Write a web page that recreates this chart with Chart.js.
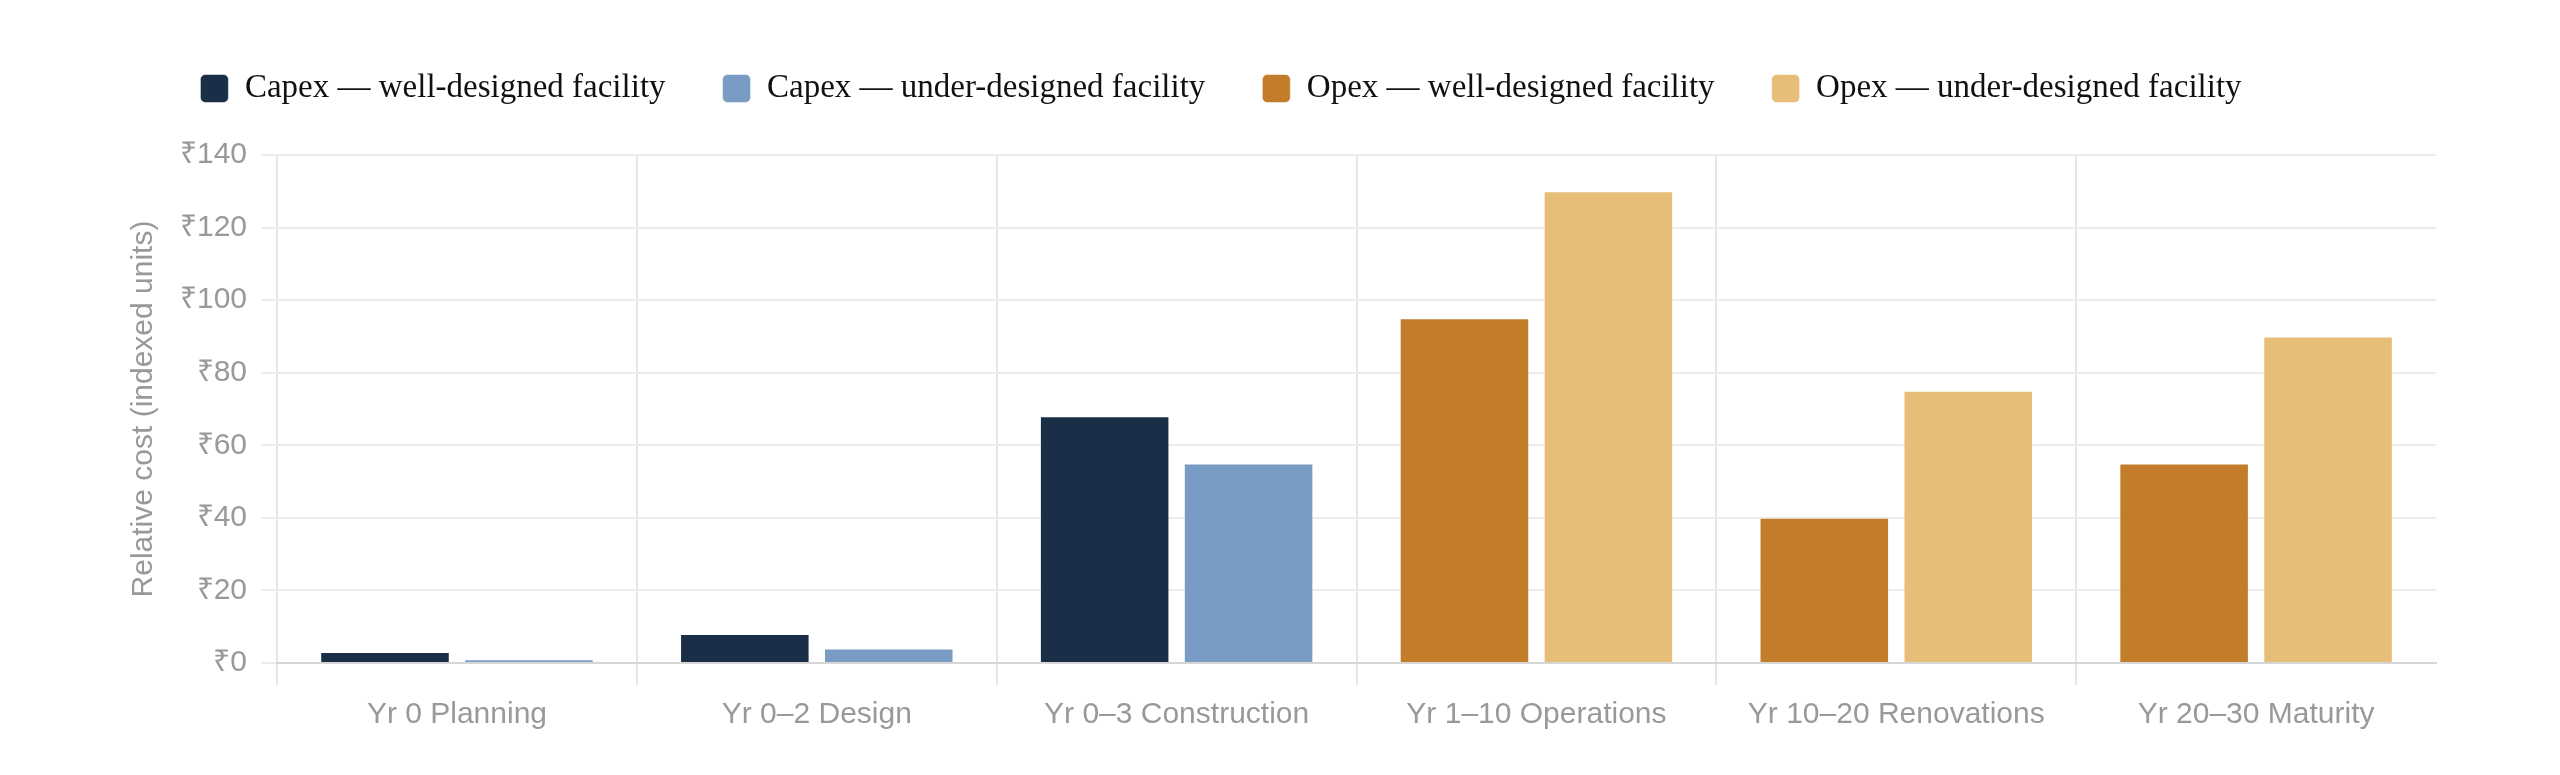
<!DOCTYPE html>
<html>
<head>
<meta charset="utf-8">
<script src="https://cdn.jsdelivr.net/npm/chart.js@4.4.1/dist/chart.umd.min.js"></script>
<style>
  html, body { margin: 0; padding: 0; background: #fff; }
  #wrap { width: 2560px; height: 775px; position: relative; }
</style>
</head>
<body>
<div id="wrap"><canvas id="lifecycleChart"></canvas></div>
<script>
// phases along the facility life
const phases = [
  "Yr 0 Planning",
  "Yr 0\u20132 Design",
  "Yr 0\u20133 Construction",
  "Yr 1\u201310 Operations",
  "Yr 10\u201320 Renovations",
  "Yr 20\u201330 Maturity"
];

// relative cost, indexed units (null = not shown for that phase)
const capexWell = [3, 8, 68, null, null, null];
const capexUnder = [1, 4, 55, null, null, null];
const opexWell = [null, null, null, 95, 40, 55];
const opexUnder = [null, null, null, 130, 75, 90];

const yTicks = [0, 20, 40, 60, 80, 100, 120, 140];

const sansFont = "'Helvetica Neue', Helvetica, 'Liberation Sans', Arial, sans-serif";
const grey = "#999999";

// extra room under the legend, and nudge it a bit left like the original
const legendTweak = {
  id: "legendTweak",
  beforeInit(chart) {
    const fit = chart.legend.fit;
    chart.legend.fit = function () {
      fit.bind(chart.legend)();
      this.height += 40;
    };
  },
  afterLayout(chart) {
    chart.legend.left -= 60;
    chart.legend.right -= 60;
  },
};

const ctx = document.getElementById("lifecycleChart");

new Chart(ctx, {
  type: "bar",
  data: {
    labels: phases,
    datasets: [
      {
        label: "Capex \u2014 well-designed facility",
        data: capexWell,
        backgroundColor: "#1b2e48",
        borderColor: "rgba(255,255,255,0.5)",
        borderWidth: 1,
      },
      {
        label: "Capex \u2014 under-designed facility",
        data: capexUnder,
        backgroundColor: "#799cc4",
        borderColor: "rgba(255,255,255,0.5)",
        borderWidth: 1,
      },
      {
        label: "Opex \u2014 well-designed facility",
        data: opexWell,
        backgroundColor: "#c27c2a",
        borderColor: "rgba(255,255,255,0.5)",
        borderWidth: 1,
      },
      {
        label: "Opex \u2014 under-designed facility",
        data: opexUnder,
        backgroundColor: "#e6be78",
        borderColor: "rgba(255,255,255,0.5)",
        borderWidth: 1,
      },
    ],
  },
  options: {
    responsive: true,
    maintainAspectRatio: false,
    devicePixelRatio: 1,
    animation: false,
    skipNull: true,
    layout: {
      padding: { top: 15, left: 126, right: 124, bottom: 30 },
    },
    plugins: {
      legend: {
        position: "top",
        labels: {
          font: { family: "'Liberation Serif', 'Times New Roman', serif", size: 33 },
          color: "#111111",
          boxWidth: 28,
          boxHeight: 28,
          useBorderRadius: true,
          borderRadius: 5,
          padding: 57,
        },
      },
      tooltip: { enabled: false },
    },
    scales: {
      x: {
        grid: {
          // the closing line on the right edge has no tick -> hide it
          color: (c) => (c.tick === undefined ? "rgba(0,0,0,0)" : "#e6e6e6"),
          lineWidth: 2,
          tickLength: 22,
          offset: true,
        },
        border: { color: "#d6d6d6", width: 2 },
        ticks: {
          color: grey,
          font: { family: sansFont, size: 30 },
          padding: 12,
        },
      },
      y: {
        min: 0,
        max: 140,
        afterBuildTicks: (axis) => {
          axis.ticks = yTicks.map((v) => ({ value: v }));
        },
        grid: {
          color: "#ececec",
          lineWidth: 2,
          tickLength: 16,
        },
        border: { display: false },
        ticks: {
          color: grey,
          font: { family: sansFont, size: 30 },
          padding: 14,
          callback: (v) => "\u20b9" + v,
        },
        title: {
          display: true,
          text: "Relative cost (indexed units)",
          color: grey,
          font: { family: sansFont, size: 30 },
          padding: { top: 0, bottom: 4 },
        },
      },
    },
  },
  plugins: [legendTweak],
});
</script>
</body>
</html>
